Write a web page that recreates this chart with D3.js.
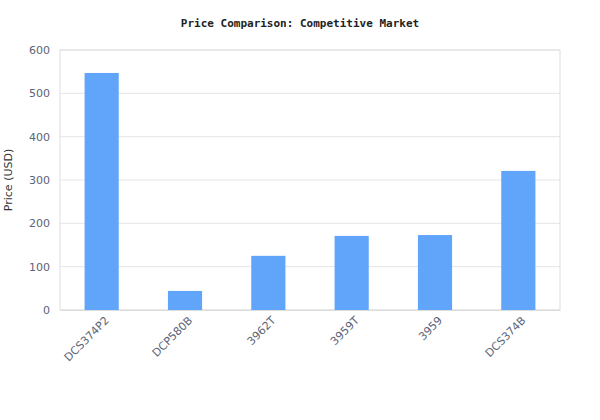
<!DOCTYPE html>
<html><head><meta charset="utf-8">
<script src="https://cdn.jsdelivr.net/npm/d3@7"></script>
<style>body{margin:0;background:#fff}</style>
</head><body><div id="chart"></div>
<script>
// chart data
const models = ['DCS374P2', 'DCP580B', '3962T', '3959T', '3959', 'DCS374B']
const prices = [547, 44, 125, 171, 173, 321]
const yTicks = [0, 100, 200, 300, 400, 500, 600]

var margin = {top: 50, right: 40, bottom: 110, left: 60},
    width = 600 - margin.left - margin.right,
    height = 420 - margin.top - margin.bottom

const root = d3.select('#chart').append('svg')
  .attr('width', 600).attr('height', 420)
  .style('font-family', '"DejaVu Sans", sans-serif')

root.append('text')
  .attr('x', 300).attr('y', 27)
  .attr('text-anchor', 'middle')
  .style('font-family', '"DejaVu Sans Mono", monospace')
  .style('font-weight', 'bold').style('font-size', '11px')
  .attr('fill', '#222')
  .text('Price Comparison: Competitive Market')

const svg = root.append('g')
  .attr('transform', 'translate(' + margin.left + ',' + margin.top + ')')

const x = d3.scaleBand().domain(models).range([0, width])
  .paddingInner(0.59).paddingOuter(0.295)
const y = d3.scaleLinear().domain([0, 600]).range([height, 0])

// grid
svg.selectAll('.grid').data(yTicks).enter().append('line')
  .attr('x1', 0).attr('x2', width)
  .attr('y1', d => y(d)).attr('y2', d => y(d))
  .attr('stroke', '#e5e5e5')

svg.append('rect').attr('width', width).attr('height', height)
  .attr('fill', 'none').attr('stroke', '#ddd')

svg.selectAll('.bar').data(prices).enter().append('rect')
  .attr('x', (d, i) => x(models[i]))
  .attr('y', d => y(d))
  .attr('width', x.bandwidth())
  .attr('height', d => height - y(d))
  .attr('fill', '#60a5fa')

const yAxis = svg.append('g')
  .call(d3.axisLeft(y).tickValues(yTicks).tickSize(0).tickPadding(10))
yAxis.select('.domain').remove()
yAxis.selectAll('text').attr('fill', '#5b6478')
  .style('font-family', '"DejaVu Sans", sans-serif').style('font-size', '11px')

const xAxis = svg.append('g')
  .attr('transform', 'translate(0,' + height + ')')
  .call(d3.axisBottom(x).tickSize(0).tickPadding(8))
xAxis.select('.domain').attr('stroke', '#ddd')
xAxis.selectAll('text')
  .attr('fill', '#5b6478')
  .style('font-family', '"DejaVu Sans", sans-serif').style('font-size', '11px')
  .attr('text-anchor', 'end')
  .attr('dx', '-0.2em').attr('dy', '0.5em')
  .attr('transform', 'rotate(-45)')

svg.append('text')
  .attr('transform', 'rotate(-90)')
  .attr('x', -height / 2).attr('y', -48)
  .attr('text-anchor', 'middle')
  .style('font-size', '11px').attr('fill', '#333')
  .text('Price (USD)')
</script></body></html>
